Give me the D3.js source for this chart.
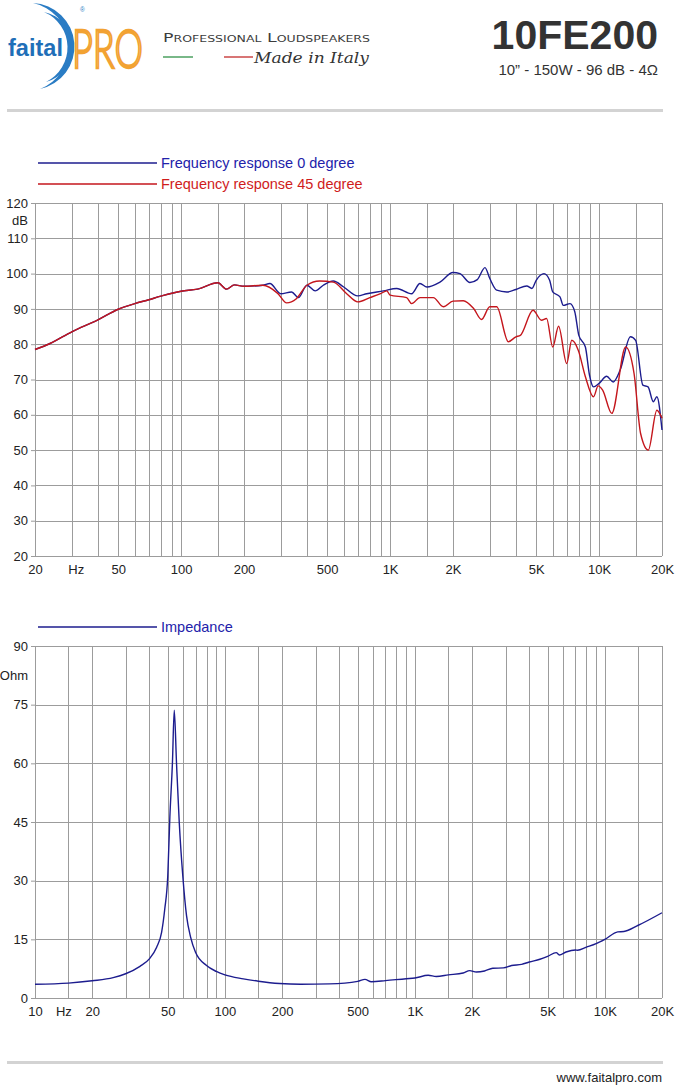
<!DOCTYPE html>
<html>
<head>
<meta charset="utf-8">
<script src="https://cdn.jsdelivr.net/npm/d3@7"></script>
<style>
  body { margin: 0; background: #fff; }
  svg { display: block; font-family: "Liberation Sans", Arial, sans-serif; }
</style>
</head>
<body>
<svg id="sheet" width="679" height="1086"></svg>
<script>
// Frequency response, 0 degree (Hz / dB)
const freq0 = [20, 23.6, 30, 40, 50, 60, 70, 80, 100, 120, 150, 165, 180, 200, 246, 266, 300, 338, 364,
  400, 438, 479, 535, 600, 700, 773, 929, 1076, 1268, 1390, 1500, 1733, 2000, 2159, 2410, 2614, 2845,
  3000, 3237, 3612, 4000, 4506, 4770, 5000, 5450, 5800, 6000, 6500, 6740, 7260, 7650, 8000, 8600,
  9000, 9400, 10000, 10870, 11690, 12600, 14130, 14960, 16200, 17150, 18170, 18900, 20000];
const db0 = [78.5, 80.2, 83.5, 86.9, 89.9, 91.5, 92.6, 93.6, 95.0, 95.6, 97.4, 95.6, 96.8, 96.4, 96.7, 97.2, 94.3, 94.8, 93.2,
  96.7, 95.1, 96.7, 97.9, 96.2, 93.7, 94.3, 95.1, 95.8, 94.3, 97.2, 96.2, 97.6, 100.3, 100.0, 97.5, 98.3, 101.7,
  98.6, 95.3, 94.8, 95.5, 96.5, 95.8, 98.1, 100.0, 98.1, 94.8, 93.4, 91.0, 91.5, 89.2, 82.5, 79.2,
  71.2, 67.9, 68.9, 70.9, 69.3, 72.6, 82.1, 81.1, 68.4, 67.9, 63.7, 65.1, 55.7];

// Frequency response, 45 degree (Hz / dB)
const freq45 = [20, 23.6, 30, 40, 50, 60, 70, 80, 100, 120, 150, 165, 180, 200, 246, 290, 320, 356,
  400, 460, 535, 620, 700, 800, 900, 964, 1000, 1200, 1268, 1390, 1610, 1798, 2000, 2240, 2510, 2740,
  3000, 3237, 3680, 4000, 4200, 4830, 5300, 5610, 6000, 6400, 7000, 7400, 7950, 8600, 9400, 9900,
  10400, 11500, 13400, 14700, 15800, 17200, 18900, 20000];
const db45 = [78.5, 80.2, 83.5, 86.9, 89.9, 91.5, 92.6, 93.6, 95.0, 95.6, 97.4, 95.6, 96.8, 96.4, 96.7, 94.4, 91.7, 92.9,
  96.7, 97.9, 97.6, 94.3, 92.0, 93.2, 94.3, 95.1, 93.9, 93.2, 91.5, 93.2, 93.2, 90.6, 92.2, 92.3, 90.1, 87.0,
  90.6, 90.6, 80.7, 82.1, 82.5, 89.6, 86.8, 87.3, 79.2, 85.1, 74.5, 81.1, 78.3, 70.8, 65.1, 68.2,
  67.0, 60.4, 79.2, 71.7, 54.7, 50.0, 61.3, 59.0];

// Impedance (Hz / Ohm)
const impFreq = [10, 15, 20, 25.8, 30, 35.7, 40, 43.7, 46.4, 48.2, 50, 51.3, 52.9, 54.1, 55.6, 57.5, 60, 62.8, 66,
  70, 80, 90, 100, 125, 150, 194, 250, 355, 500, 546, 590, 700, 900, 1000, 1175, 1297, 1500, 1796, 1945,
  2108, 2326, 2570, 2925, 3230, 3650, 4000, 4550, 5000, 5550, 5760, 6250, 7000, 7180, 8000, 9000, 10000,
  11700, 12600, 15000, 20000];
const impOhm = [3.5, 3.8, 4.4, 5.2, 6.2, 8.1, 10.0, 13.0, 16.8, 22.7, 31.2, 46.4, 60.0, 73.6, 60.0, 44.7, 31.2, 21.0, 15.5,
  11.7, 8.3, 6.8, 5.9, 4.9, 4.3, 3.7, 3.5, 3.6, 4.26, 4.77, 4.17, 4.43, 4.94, 5.11, 5.8, 5.5, 5.9, 6.4, 7.0,
  6.65, 6.9, 7.6, 7.7, 8.3, 8.6, 9.2, 9.9, 10.65, 11.6, 11.0, 11.76, 12.27, 12.2, 13.0, 13.9, 15.0,
  16.9, 17.0, 18.6, 21.8];

// Axes and grids
const splTicks = [20, 30, 40, 50, 60, 70, 80, 90, 100, 110, 120];
const ohmTicks = [0, 15, 30, 45, 60, 75, 90];
const splGrid = [30, 40, 50, 60, 70, 80, 90, 100, 150, 200, 300, 400, 500, 600, 700, 800, 900,
  1000, 1500, 2000, 3000, 4000, 5000, 6000, 7000, 8000, 9000, 10000, 15000];
const ohmGrid = [15, 20, 30, 40, 50, 60, 70, 80, 90, 100, 150, 200, 300, 400, 500, 600, 700, 800, 900,
  1000, 1500, 2000, 3000, 4000, 5000, 6000, 7000, 8000, 9000, 10000, 15000];
const splLabels = [20, 50, 100, 200, 500, 1000, 2000, 5000, 10000, 20000];
const ohmLabels = [10, 20, 50, 100, 200, 500, 1000, 2000, 5000, 10000, 20000];

const svg = d3.select("#sheet");
const gridColor = "#9c9c9c";
const blue = "#1c1c8e";
const red = "#c4161c";

// ---------- header ----------
const head = svg.append("g");
// logo crescents
head.append("path")
  .attr("d", "M33,3 A43.5,43.5 0 0 1 40,89 A45,45 0 0 0 33,3 Z")
  .attr("fill", "#2a7cc4");
head.append("path")
  .attr("d", "M44,12 A36,36 0 0 1 46,82 A38.5,38.5 0 0 0 44,12 Z")
  .attr("fill", "#2a7cc4");
head.append("text")
  .attr("x", 8).attr("y", 56)
  .attr("font-size", 24).attr("font-weight", "bold")
  .attr("textLength", 55).attr("lengthAdjust", "spacingAndGlyphs")
  .attr("fill", "#1f6fb8")
  .text("faital");
// tall thin "PRO": narrow font size, stretched vertically
head.append("text")
  .attr("transform", "translate(72,68) scale(1,1.5)")
  .attr("font-family", "Lato, 'Open Sans', sans-serif").attr("font-weight", 300)
  .attr("font-size", 36)
  .attr("fill", "none").attr("stroke", "#f2a232").attr("stroke-width", 1.6)
  .text("PRO");
head.append("text")
  .attr("x", 80).attr("y", 12).attr("font-size", 6.5).attr("fill", "#2a7cc4")
  .text("®");

head.append("text")
  .attr("x", 163).attr("y", 42)
  .attr("font-family", "'DejaVu Sans', sans-serif")
  .attr("font-size", 12.5)
  .style("font-variant", "small-caps")
  .attr("fill", "#3c3c3c")
  .attr("textLength", 207).attr("lengthAdjust", "spacingAndGlyphs")
  .text("Professional Loudspeakers");
head.append("line").attr("x1", 163).attr("x2", 193).attr("y1", 57).attr("y2", 57)
  .attr("stroke", "#3f9a55").attr("stroke-width", 1.4);
head.append("line").attr("x1", 224).attr("x2", 253).attr("y1", 57).attr("y2", 57)
  .attr("stroke", "#c83a3a").attr("stroke-width", 1.4);
head.append("text")
  .attr("x", 254).attr("y", 63)
  .attr("font-family", "'DejaVu Serif', serif").attr("font-style", "italic")
  .attr("font-size", 14).attr("fill", "#333")
  .attr("textLength", 115).attr("lengthAdjust", "spacingAndGlyphs")
  .text("Made in Italy");

head.append("text")
  .attr("x", 658).attr("y", 49).attr("text-anchor", "end")
  .attr("font-size", 41).attr("font-weight", "bold").attr("fill", "#333")
  .text("10FE200");
head.append("text")
  .attr("x", 658).attr("y", 75).attr("text-anchor", "end")
  .attr("font-size", 15).attr("fill", "#333")
  .text("10\u201D - 150W - 96 dB - 4\u03A9");

svg.append("rect").attr("x", 7).attr("y", 109).attr("width", 656).attr("height", 3).attr("fill", "#d3d3d3");
svg.append("rect").attr("x", 7).attr("y", 1061).attr("width", 656).attr("height", 3).attr("fill", "#d3d3d3");
svg.append("text")
  .attr("x", 662).attr("y", 1082).attr("text-anchor", "end")
  .attr("font-size", 13).attr("fill", "#222")
  .text("www.faitalpro.com");

// ---------- charts ----------
const fmtHz = d => d >= 1000 ? (d / 1000) + "K" : String(d);
const crisp = v => Math.round(v) + 0.5;

function drawChart(o) {
  const x = d3.scaleLog().domain(o.xDomain).range([35, 662]);
  const y = d3.scaleLinear().domain(o.yDomain).range([o.bottom, o.top]);
  const g = svg.append("g");

  g.selectAll(null).data(o.yTicks).join("line")
    .attr("x1", 35).attr("x2", 662)
    .attr("y1", d => crisp(y(d))).attr("y2", d => crisp(y(d)))
    .attr("stroke", gridColor);
  g.selectAll(null).data(o.xGrid.concat(o.xDomain)).join("line")
    .attr("x1", d => crisp(x(d))).attr("x2", d => crisp(x(d)))
    .attr("y1", o.top).attr("y2", o.bottom)
    .attr("stroke", gridColor);

  const yAxis = g.append("g")
    .attr("transform", "translate(35,0)")
    .call(d3.axisLeft(y).tickValues(o.yTicks).tickSize(4).tickPadding(3));
  yAxis.select(".domain").remove();
  yAxis.selectAll("line").attr("stroke", gridColor);
  yAxis.selectAll("text").attr("font-size", 13).attr("fill", "#222")
    .attr("font-family", "'Liberation Sans', Arial, sans-serif");
  g.append("text")
    .attr("x", 28).attr("y", y(o.unitAt)).attr("dy", "0.35em")
    .attr("text-anchor", "end").attr("font-size", 13).attr("fill", "#222")
    .text(o.unit);

  const xAxis = g.append("g")
    .attr("transform", `translate(0,${o.bottom})`)
    .call(d3.axisBottom(x).tickValues(o.xLabels).tickSize(0).tickPadding(9).tickFormat(fmtHz));
  xAxis.select(".domain").remove();
  xAxis.selectAll("text").attr("font-size", 13).attr("fill", "#222")
    .attr("font-family", "'Liberation Sans', Arial, sans-serif");
  g.append("text")
    .attr("x", x(o.hzAt)).attr("y", o.bottom + 9).attr("dy", "0.71em")
    .attr("text-anchor", "middle").attr("font-size", 13).attr("fill", "#222")
    .text("Hz");

  const line = d3.line()
    .x(d => x(d[0])).y(d => y(d[1]))
    .curve(d3.curveMonotoneX);

  o.series.forEach((s, i) => {
    const pts = d3.zip(s.freq, s.vals);
    g.append("path")
      .datum(pts)
      .attr("d", line)
      .attr("fill", "none")
      .attr("stroke", s.color)
      .attr("stroke-width", 1.4)
      .attr("stroke-linejoin", "round");

    const ly = o.legendY + i * 21;
    g.append("line")
      .attr("x1", 38).attr("x2", 157).attr("y1", ly).attr("y2", ly)
      .attr("stroke", s.color).attr("stroke-width", 1.3);
    g.append("text")
      .attr("x", 161).attr("y", ly + 5)
      .attr("font-size", 14.5).attr("fill", s.textColor)
      .text(s.name);
  });
}

drawChart({
  xDomain: [20, 20000], yDomain: [20, 120],
  top: 203, bottom: 556,
  yTicks: splTicks, unit: "dB", unitAt: 115,
  xGrid: splGrid, xLabels: splLabels, hzAt: 31.5,
  legendY: 163,
  series: [
    { name: "Frequency response 0 degree", freq: freq0, vals: db0, color: blue, textColor: "#2222aa" },
    { name: "Frequency response 45 degree", freq: freq45, vals: db45, color: red, textColor: "#d01c1c" }
  ]
});

drawChart({
  xDomain: [10, 20000], yDomain: [0, 90],
  top: 646, bottom: 998,
  yTicks: ohmTicks, unit: "Ohm", unitAt: 82.5,
  xGrid: ohmGrid, xLabels: ohmLabels, hzAt: 14.2,
  legendY: 627,
  series: [
    { name: "Impedance", freq: impFreq, vals: impOhm, color: blue, textColor: "#2222aa" }
  ]
});
</script>
</body>
</html>
